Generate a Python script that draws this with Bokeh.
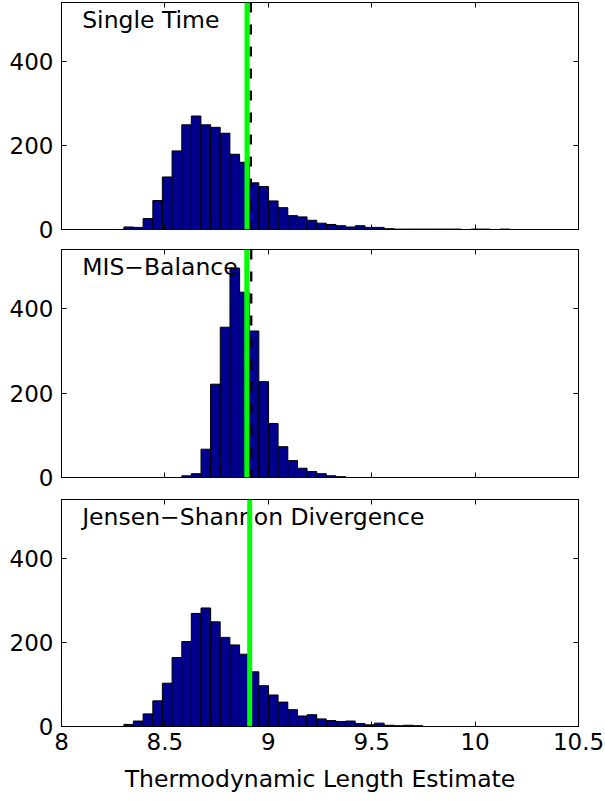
from bokeh.plotting import figure
from bokeh.models import (Range1d, FixedTicker, CustomJSTickFormatter, LinearAxis,
                          Span, ColumnDataSource)
from bokeh.layouts import column
from bokeh.embed import file_html
from bokeh.resources import INLINE
from bokeh.core.properties import value

# ---------------- data ----------------
bin_centers = [8.325, 8.371, 8.418, 8.465, 8.511, 8.558, 8.605, 8.651, 8.698, 8.744,
               8.791, 8.838, 8.884, 8.931, 8.978, 9.024, 9.071, 9.118, 9.164, 9.211,
               9.257, 9.304, 9.351, 9.397, 9.444, 9.491, 9.537, 9.584, 9.630, 9.677,
               9.724, 9.770, 9.817, 9.864, 9.910, 9.957, 10.004, 10.050, 10.097, 10.144]
bin_width = 0.0466

single_time = [6, 5, 26, 69, 125, 187, 249, 270, 249, 243,
               229, 179, 160, 111, 102, 68, 52, 33, 30, 22,
               15, 12, 9, 6, 9, 5, 5, 2, 1, 1,
               1, 1, 1, 1, 1, 0, 1, 1, 0, 1]
mis_balance = [0, 0, 0, 0, 0, 0, 4, 9, 67, 221,
               356, 496, 439, 347, 227, 128, 73, 40, 22, 14,
               9, 4, 2, 0, 0, 0, 0, 0, 0, 0,
               0, 0, 0, 0, 0, 0, 0, 0, 0, 0]
jensen_shannon = [5, 13, 30, 61, 103, 164, 202, 269, 282, 249,
                  212, 194, 172, 130, 97, 75, 58, 40, 25, 28,
                  18, 14, 12, 13, 7, 4, 8, 3, 2, 3,
                  2, 0, 0, 0, 0, 0, 0, 0, 0, 0]

panel_titles = ["Single Time", "MIS\u2212Balance", "Jensen\u2212Shannon Divergence"]
green_lines = [8.897, 8.896, 8.910]      # true value (green)
dashed_lines = [8.915, 8.917, None]      # dashed reference line
x_ticks = [8, 8.5, 9, 9.5, 10, 10.5]
y_ticks = [0, 200, 400]
x_label = "Thermodynamic Length Estimate"

FONT = "DejaVu Sans"
BAR_COLOR = "#00008F"


def make_panel(idx, counts, top_b, frame_h, bot_b, show_x):
    p = figure(width=605, height=top_b + frame_h + bot_b,
               x_range=Range1d(8, 10.5), y_range=Range1d(0, 540),
               output_backend="svg", toolbar_location=None,
               min_border_left=61, min_border_right=27,
               min_border_top=top_b, min_border_bottom=bot_b)
    p.xgrid.visible = False
    p.ygrid.visible = False
    p.outline_line_color = "black"
    p.outline_line_alpha = 1.0
    p.outline_line_width = 1
    p.background_fill_color = "white"
    p.border_fill_color = "white"

    src = ColumnDataSource(dict(x=bin_centers, top=counts))
    p.vbar(x="x", top="top", width=bin_width, bottom=0, source=src,
           fill_color=BAR_COLOR, line_color="black", line_width=1)

    tsrc = ColumnDataSource(dict(x=[8.1], y=[499], t=[panel_titles[idx]]))
    p.text(x="x", y="y", text="t", source=tsrc, text_font=value(FONT),
           text_font_size="23.5px", text_baseline="alphabetic", text_align="left",
           text_color="black")

    if dashed_lines[idx] is not None:
        p.add_layout(Span(location=dashed_lines[idx], dimension="height",
                          line_color="black", line_width=2.5, line_dash="10 12"))
    p.add_layout(Span(location=green_lines[idx], dimension="height",
                      line_color="#00FF00", line_width=5))

    # left axis
    ya = p.yaxis[0]
    ya.ticker = FixedTicker(ticks=y_ticks)
    ya.major_tick_in = 5
    ya.major_tick_out = 0
    ya.minor_tick_line_color = None
    ya.major_label_standoff = 8
    ya.major_label_text_font = FONT
    ya.major_label_text_font_size = "23px"
    ya.major_label_text_color = "black"
    ya.axis_line_color = "black"
    ya.major_tick_line_color = "black"

    # bottom axis
    xa = p.xaxis[0]
    xa.ticker = FixedTicker(ticks=x_ticks)
    xa.major_tick_in = 5
    xa.major_tick_out = 0
    xa.minor_tick_line_color = None
    xa.axis_line_color = "black"
    xa.major_tick_line_color = "black"
    if show_x:
        xa.formatter = CustomJSTickFormatter(code="return tick.toString();")
        xa.major_label_standoff = 6
        xa.major_label_text_font = FONT
        xa.major_label_text_font_size = "23px"
        xa.major_label_text_color = "black"
        xa.axis_label = x_label
        xa.axis_label_text_font = FONT
        xa.axis_label_text_font_size = "23.5px"
        xa.axis_label_text_font_style = "normal"
        xa.axis_label_text_color = "black"
        xa.axis_label_standoff = 12
    else:
        xa.formatter = CustomJSTickFormatter(code="return '';")
        xa.major_label_standoff = 0
        xa.major_label_text_font_size = "0px"

    # mirrored axes (ticks only)
    top_ax = LinearAxis(ticker=FixedTicker(ticks=x_ticks),
                        formatter=CustomJSTickFormatter(code="return '';"),
                        major_tick_in=5, major_tick_out=0, minor_tick_line_color=None,
                        major_label_standoff=0, major_label_text_font_size="0px",
                        axis_line_color="black")
    right_ax = LinearAxis(ticker=FixedTicker(ticks=y_ticks),
                          formatter=CustomJSTickFormatter(code="return '';"),
                          major_tick_in=5, major_tick_out=0, minor_tick_line_color=None,
                          major_label_standoff=0, major_label_text_font_size="0px",
                          axis_line_color="black")
    p.add_layout(top_ax, "above")
    p.add_layout(right_ax, "right")
    return p


p1 = make_panel(0, single_time, 2, 227, 13, False)
p2 = make_panel(1, mis_balance, 7, 228, 13, False)
p3 = make_panel(2, jensen_shannon, 9, 227, 75, True)

layout = column(p1, p2, p3, spacing=0)

open("out.html", "w").write(file_html(layout, INLINE))
